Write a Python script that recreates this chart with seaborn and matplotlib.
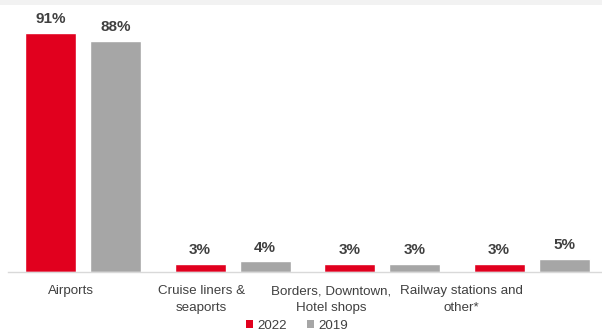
import numpy as np
import pandas as pd
import matplotlib
matplotlib.use("Agg")
import matplotlib.pyplot as plt
import seaborn as sns
from matplotlib.patches import Patch, Rectangle

# ==================== data ====================
categories = ["Airports", "Cruise liners &\nseaports",
              "Borders, Downtown,\nHotel shops", "Railway stations and\nother*"]
years = ["2022", "2019"]
share_2022 = [91, 3, 3, 3]
share_2019 = [88, 4, 3, 5]

RED = "#E1001E"
GREY = "#A6A6A6"
TXT = "#404040"

df = pd.DataFrame({
    "category": categories * 2,
    "year": [years[0]] * len(categories) + [years[1]] * len(categories),
    "share": share_2022 + share_2019,
})

# ==================== plot ====================
sns.set_theme(style="white")
plt.rcParams["font.family"] = ["Liberation Sans", "DejaVu Sans"]

fig = plt.figure(figsize=(6.02, 3.34), dpi=100)
ax = fig.add_axes([8 / 602, (334 - 272) / 334, 1 - 8 / 602, 263 / 334])

sns.barplot(data=df, x="category", y="share", hue="year", order=categories,
            hue_order=years, palette=[RED, GREY], width=0.87, gap=0.216,
            saturation=1, legend=False, ax=ax)

for cont in ax.containers:
    ax.bar_label(cont, labels=[f"{v:.0f}%" for v in cont.datavalues],
                 padding=5, fontsize=11, fontweight="bold", color=TXT)

ax.set_ylim(0, 100)
ax.set_xlim(-0.502, 3.47)
ax.set_xlabel("")
ax.set_ylabel("")
ax.set_yticks([])
# labels in the source sit slightly left of the bar groups
ax.set_xticks([-0.08 + 0.87 * i for i in range(len(categories))])
ax.set_xticklabels(categories, fontsize=9.6, color=TXT, linespacing=1.5)
ax.tick_params(axis="x", length=0, pad=9.5)
for s in ["top", "left", "right"]:
    ax.spines[s].set_visible(False)
ax.spines["bottom"].set_color("#D9D9D9")
ax.spines["bottom"].set_linewidth(1.0)

handles = [Patch(facecolor=RED, edgecolor="none", label=years[0]),
           Patch(facecolor=GREY, edgecolor="none", label=years[1])]
fig.legend(handles=handles, loc="center", bbox_to_anchor=(297 / 602, 8 / 334),
           ncol=2, frameon=False, fontsize=9.6, handlelength=0.55, handleheight=0.55,
           handletextpad=0.3, columnspacing=1.5, labelcolor=TXT)

# thin light band at the top of the source image
fig.patches.append(Rectangle((0, 1 - 5 / 334), 1, 5 / 334, transform=fig.transFigure,
                             facecolor="#F2F2F2", edgecolor="none", zorder=0))

fig.savefig("out.png", dpi=100)
